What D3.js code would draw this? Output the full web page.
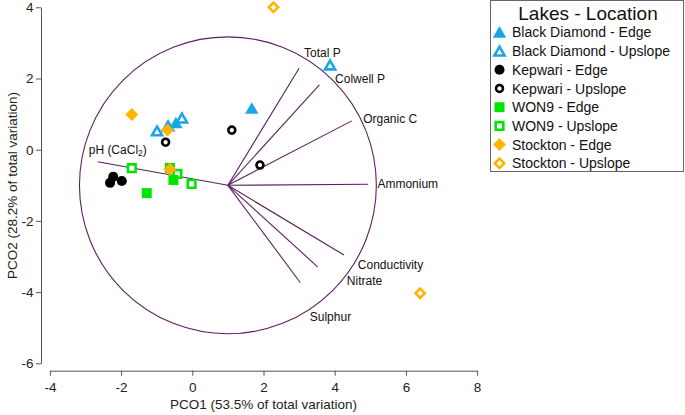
<!DOCTYPE html>
<html><head><meta charset="utf-8">
<script src="https://cdn.jsdelivr.net/npm/d3@7"></script>
<style>body{margin:0;background:#fff}svg{display:block;font-family:"Liberation Sans",Arial,sans-serif}</style>
</head><body><svg id="c" width="685" height="415"></svg>
<script>
// ---- data ----
const groups = ["Black Diamond - Edge","Black Diamond - Upslope","Kepwari - Edge","Kepwari - Upslope","WON9 - Edge","WON9 - Upslope","Stockton - Edge","Stockton - Upslope"];
const groupShape = ["triangle","triangle","circle","circle","square","square","diamond","diamond"];
const groupFilled = [true,false,true,false,true,false,true,false];
const groupColor = ["#19a7e6","#19a7e6","#000000","#000000","#00e400","#00e400","#ffb400","#ffb400"];
const bdEdge = [[1.67,1.16],[-0.46,0.75]];
const bdUp = [[3.87,2.38],[-0.99,0.53],[-0.68,0.67],[-0.29,0.89]];
const kepEdge = [[-2.22,-0.76],[-2.31,-0.93],[-1.98,-0.88]];
const kepUp = [[1.11,0.55],[1.90,-0.43],[-0.75,0.21]];
const wonEdge = [[-1.28,-1.22],[-0.53,-0.85],[-0.63,-0.51]];
const wonUp = [[-1.70,-0.52],[-0.42,-0.68],[-0.02,-0.96]];
const stEdge = [[-1.70,0.99],[-0.70,0.55],[-0.63,-0.55]];
const stUp = [[2.28,4.0],[6.40,-4.03]];
const groupPoints = [bdEdge,bdUp,kepEdge,kepUp,wonEdge,wonUp,stEdge,stUp];
// vectors: origin and endpoints
const vecOrigin = [1.0,-1.0];
const circleRadius = 4.17;
const vecNames = ["Total P","Colwell P","Organic C","Ammonium","Conductivity","Nitrate","Sulphur","pH (CaCl2)"];
const vecEnds = [[3.0,2.29],[3.57,1.82],[4.48,0.81],[4.94,-0.97],[4.26,-2.96],[3.52,-3.29],[3.03,-3.73],[-2.66,-0.34]];
const vecLabelPos = [[3.14,2.73],[4.01,1.98],[4.8,0.86],[5.2,-0.97],[4.65,-3.23],[4.34,-3.69],[3.3,-4.7],[-2.91,0.0]];
const xTicks = [-4,-2,0,2,4,6,8];
const yTicks = [4,2,0,-2,-4,-6];
const xTitle = "PCO1 (53.5% of total variation)";
const yTitle = "PCO2 (28.2% of total variation)";
const legendTitle = "Lakes - Location";

// ---- drawing ----
const svg = d3.select("#c");
const x = d3.scaleLinear().domain([-4,8]).range([49.9,477.1]);
const y = d3.scaleLinear().domain([-6,4]).range([363.3,7.3]);
const axisCol = "#555";
const purple = "#5a2061";

// axes
const gx = svg.append("g").attr("transform","translate(0,370.7)")
  .call(d3.axisBottom(x).tickValues(xTicks).tickSize(5).tickSizeOuter(0).tickFormat(d3.format("d")));
const gy = svg.append("g").attr("transform","translate(41,0)")
  .call(d3.axisLeft(y).tickValues(yTicks).tickSize(5).tickSizeOuter(0).tickFormat(d3.format("d")));
[gx,gy].forEach(g=>{
  g.select(".domain").attr("stroke",axisCol);
  g.selectAll(".tick line").attr("stroke",axisCol);
  g.selectAll("text").attr("font-size",13.5).attr("fill","#222").attr("font-family","Liberation Sans, Arial, sans-serif");
});
gx.selectAll("text").attr("dy","0.95em");
gy.selectAll("text").attr("x",-7.5);
gx.selectAll("text").text(d=>String(d).replace("−","-"));
gy.selectAll("text").text(d=>String(d).replace("−","-"));

svg.append("text").attr("x",263.5).attr("y",409).attr("text-anchor","middle")
  .attr("font-size",13.5).attr("fill","#222").text(xTitle);
svg.append("text").attr("transform","translate(17,185.5) rotate(-90)").attr("text-anchor","middle")
  .attr("font-size",13.5).attr("fill","#222").text(yTitle);

// circle
const pxPerUnit = x(1)-x(0);
svg.append("circle").attr("cx",x(vecOrigin[0])).attr("cy",y(vecOrigin[1]))
  .attr("r",circleRadius*pxPerUnit).attr("fill","none").attr("stroke",purple).attr("stroke-width",1.1);
// vectors
svg.append("g").selectAll("line").data(vecEnds).join("line")
  .attr("x1",x(vecOrigin[0])).attr("y1",y(vecOrigin[1]))
  .attr("x2",d=>x(d[0])).attr("y2",d=>y(d[1]))
  .attr("stroke",purple).attr("stroke-width",1.1);
// vector labels
const vl = svg.append("g").attr("font-size",12).attr("fill","#111");
vecNames.forEach((n,i)=>{
  const t = vl.append("text").attr("x",x(vecLabelPos[i][0])).attr("y",y(vecLabelPos[i][1])).attr("dy","0.35em");
  if(n==="pH (CaCl2)"){
    t.append("tspan").text("pH (CaCl");
    t.append("tspan").attr("font-size",8.5).attr("dy","0.3em").text("2");
    t.append("tspan").attr("dy","-0.22em").text(")");
  } else t.text(n);
});

// symbols
function symPath(shape, filled){
  if(shape==="triangle"){ return d3.symbol(d3.symbolTriangle, filled?78:44)(); }
  if(shape==="circle"){ return d3.symbol(d3.symbolCircle, filled?80:38)(); }
  if(shape==="square"){ return d3.symbol(d3.symbolSquare, filled?100:58)(); }
  if(shape==="diamond"){ return d3.symbol(d3.symbolSquare, filled?84:44)(); }
}
function drawSym(g, shape, filled, color, px, py){
  let ty = py;
  if(shape==="triangle") ty = py+1.5;
  const p = g.append("path").attr("d",symPath(shape,filled))
    .attr("transform",`translate(${px},${ty})`+(shape==="diamond"?" rotate(45)":""));
  if(filled) p.attr("fill",color);
  else p.attr("fill","#fff").attr("stroke",color).attr("stroke-width",2.6);
}
const pg = svg.append("g");
const order = [5,4,2,3,1,0,6,7];
order.forEach(gi=>{
  groupPoints[gi].forEach(d=>drawSym(pg,groupShape[gi],groupFilled[gi],groupColor[gi],x(d[0]),y(d[1])));
});

// legend
const lg = svg.append("g");
lg.append("rect").attr("x",490.5).attr("y",0.5).attr("width",193).attr("height",171)
  .attr("fill","#fff").attr("stroke","#666").attr("stroke-width",1);
lg.append("text").attr("x",588).attr("y",20).attr("text-anchor","middle").attr("font-size",19).attr("fill","#111").text(legendTitle);
groups.forEach((g,i)=>{
  const cy = 32.3 + i*18.72;
  drawSym(lg,groupShape[i],groupFilled[i],groupColor[i],499.5,cy);
  lg.append("text").attr("x",512).attr("y",cy).attr("dy","0.36em").attr("font-size",14).attr("fill","#111").text(g);
});
</script></body></html>
